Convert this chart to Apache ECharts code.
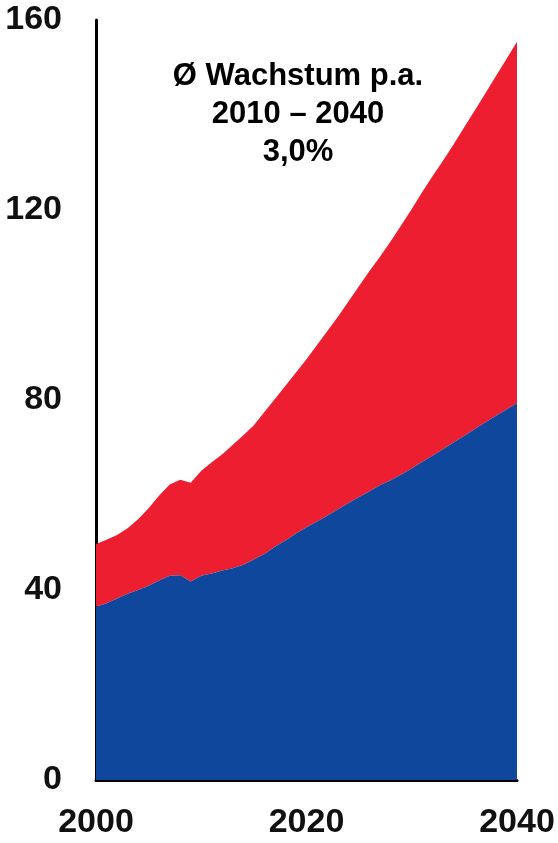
<!DOCTYPE html>
<html>
<head>
<meta charset="utf-8">
<title>Wachstum</title>
<script src="https://cdn.jsdelivr.net/npm/echarts@6/dist/echarts.min.js"></script>
<style>
  html, body { margin: 0; padding: 0; background: #fff; }
  #main { width: 558px; height: 843px; }
</style>
</head>
<body>
<div id="main"></div>
<script>
// Jahre auf der x-Achse
const years = [
  2000, 2001, 2002, 2003, 2004, 2005, 2006, 2007, 2008, 2009,
  2010, 2011, 2012, 2013, 2014, 2015, 2016, 2017, 2018, 2019,
  2020, 2021, 2022, 2023, 2024, 2025, 2026, 2027, 2028, 2029,
  2030, 2031, 2032, 2033, 2034, 2035, 2036, 2037, 2038, 2039, 2040
];

// untere Fläche (blau)
const blueValues = [
  36.5, 37.2, 38.2, 39.2, 40.0, 40.9, 42.0, 43.0, 43.1, 41.8,
  43.0, 43.5, 44.1, 44.6, 45.3, 46.4, 47.6, 49.1, 50.4, 51.9,
  53.2, 54.4, 55.7, 57.0, 58.3, 59.6, 60.8, 62.1, 63.1, 64.3,
  65.6, 67.0, 68.3, 69.7, 71.1, 72.5, 73.9, 75.3, 76.7, 78.0, 79.3
];

// obere Fläche (rot), gestapelt auf blau
const redValues = [
  13.2, 13.4, 13.4, 13.8, 14.9, 16.3, 17.9, 19.2, 20.1, 20.8,
  22.1, 23.4, 24.5, 26.0, 27.3, 28.3, 29.9, 31.1, 32.6, 33.9,
  35.4, 37.2, 38.9, 40.6, 42.5, 44.4, 46.4, 48.1, 50.3, 52.5,
  54.6, 56.8, 58.9, 60.8, 62.8, 65.0, 67.1, 69.3, 71.5, 73.8, 76.1
];

const yTicks = { min: 0, max: 160, interval: 40 };
const xLabelYears = [2000, 2020, 2040];
const noteLines = ['Ø Wachstum p.a.', '2010 – 2040', '3,0%'];

const chart = echarts.init(document.getElementById('main'), null, { renderer: 'canvas' });

const labelFont = {
  fontFamily: 'Liberation Sans, Arial, sans-serif',
  fontWeight: 'bold',
  fontSize: 34,
  color: '#111'
};

const option = {
  backgroundColor: '#fff',
  animation: false,
  grid: { left: 96, right: 41, top: 20, bottom: 63 },
  xAxis: {
    type: 'category',
    data: years.map(String),
    boundaryGap: false,
    axisLine: { show: true, lineStyle: { color: '#000', width: 3 } },
    axisTick: { show: false },
    splitLine: { show: false },
    axisLabel: Object.assign({
      margin: 26,
      interval: (i, v) => xLabelYears.indexOf(Number(v)) >= 0,
      showMinLabel: true,
      showMaxLabel: true
    }, labelFont)
  },
  yAxis: {
    type: 'value',
    min: yTicks.min,
    max: yTicks.max,
    interval: yTicks.interval,
    axisLine: { show: true, lineStyle: { color: '#000', width: 3 } },
    axisTick: { show: false },
    splitLine: { show: false },
    axisLabel: Object.assign({ margin: 34 }, labelFont)
  },
  graphic: [{
    type: 'text',
    x: 298,
    y: 57,
    z: 100,
    style: {
      text: noteLines.join('\n'),
      textAlign: 'center',
      fontFamily: 'Liberation Sans, Arial, sans-serif',
      fontWeight: 'bold',
      fontSize: 31,
      lineHeight: 38,
      fill: '#000'
    }
  }],
  series: [
    {
      name: 'blau',
      type: 'line',
      stack: 'gesamt',
      data: blueValues,
      showSymbol: false,
      symbol: 'none',
      lineStyle: { width: 0 },
      areaStyle: { color: '#0e479b', opacity: 1 },
      itemStyle: { color: '#0e479b' },
      z: 3
    },
    {
      name: 'rot',
      type: 'line',
      stack: 'gesamt',
      data: redValues,
      showSymbol: false,
      symbol: 'none',
      lineStyle: { width: 0 },
      areaStyle: { color: '#ee1e31', opacity: 1 },
      itemStyle: { color: '#ee1e31' },
      z: 2
    }
  ]
};

chart.setOption(option);
</script>
</body>
</html>
